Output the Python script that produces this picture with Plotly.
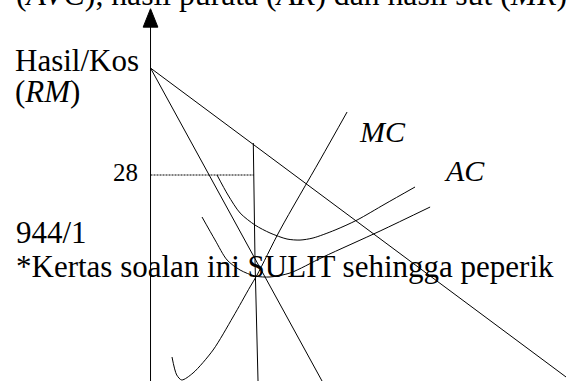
import plotly.graph_objects as go

# Rajah hasil/kos firma (unit: kuantiti Q, harga RM)
ar_q = [0, 56.48]
ar_p = [42.54, 0.54]

mr_q = [0, 23.31]
mr_p = [42.54, 0.0]

mc_q = [2.92, 3.56, 4.24, 5.78, 8.50, 11.21, 13.52, 14.48, 17.60, 23.04, 26.71]
mc_p = [3.26, 0.82, 0.14, 1.09, 4.21, 8.70, 12.78, 14.41, 20.52, 30.04, 36.56]

ac_q = [9.04, 10.53, 12.17, 14.20, 16.24, 18.55, 20.32, 22.09, 25.08, 28.07, 31.87, 35.95]
ac_p = [28.00, 25.28, 22.84, 21.20, 20.12, 19.30, 19.16, 19.44, 20.52, 21.88, 24.06, 26.37]

avc_q = [7.00, 8.77, 10.40, 12.17, 14.20, 16.24, 18.96, 23.45, 31.20, 38.00]
avc_p = [22.29, 19.17, 16.45, 15.09, 14.27, 14.14, 14.68, 16.85, 20.39, 23.65]

q_line_q = [13.97, 14.20, 14.61]
q_line_p = [32.35, 16.45, 0.0]

price_level = 28
price_q = [0, 14.03]

axis_q = [0, 0]
axis_p = [0, 48.2]
arrow_q = [-1.0, 0, 1.0, -1.0]
arrow_p = [48.1, 50.6, 48.1, 48.1]

FONT = "Liberation Serif, Times New Roman, serif"

fig = go.Figure()

line = dict(color="black", width=1)
fig.add_trace(go.Scatter(x=axis_q, y=axis_p, mode="lines", line=line))
fig.add_trace(go.Scatter(x=arrow_q, y=arrow_p, mode="lines", fill="toself",
                         fillcolor="black", line=dict(color="black", width=1)))
fig.add_trace(go.Scatter(x=ar_q, y=ar_p, mode="lines", line=line))
fig.add_trace(go.Scatter(x=mr_q, y=mr_p, mode="lines", line=line))
fig.add_trace(go.Scatter(x=mc_q, y=mc_p, mode="lines",
                         line=dict(color="black", width=1, shape="spline", smoothing=0.8)))
fig.add_trace(go.Scatter(x=ac_q, y=ac_p, mode="lines",
                         line=dict(color="black", width=1, shape="spline", smoothing=0.8)))
fig.add_trace(go.Scatter(x=avc_q, y=avc_p, mode="lines",
                         line=dict(color="black", width=1, shape="spline", smoothing=0.8)))
fig.add_trace(go.Scatter(x=q_line_q, y=q_line_p, mode="lines", line=line))
fig.add_trace(go.Scatter(x=price_q, y=[price_level, price_level], mode="lines",
                         line=dict(color="black", width=1, dash="2px,1px")))

def label(text, x, y, size=31, anchor="left", yref="y"):
    fig.add_annotation(x=x, y=y, xref="x", yref=yref, text=text, showarrow=False,
                       xanchor=anchor, yanchor="middle",
                       font=dict(family=FONT, size=size, color="black"))

# baris atas terpotong di tepi gambar
label("(<i>AVC</i>), hasil purata (<i>AR</i>) dan hasil sut (<i>MR</i>)", -18.55, 1.015,
      size=31.7, yref="paper")
label("Hasil/Kos", -18.69, 43.63)
label("(<i>RM</i>)", -18.69, 39.42)
label("28", -1.43, 28.41, size=25, anchor="right")
label("<i>MC</i>", 28.07, 33.85, size=30)
label("<i>AC</i>", 39.62, 28.68, size=30)
label("944/1", -18.55, 20.12)
label("*Kertas soalan ini SULIT sehingga peperik", -18.55, 15.63)

fig.update_layout(
    width=566, height=381,
    margin=dict(l=0, r=0, t=0, b=0),
    paper_bgcolor="white", plot_bgcolor="white",
    showlegend=False,
    xaxis=dict(range=[-20.46, 56.47], visible=False, fixedrange=True),
    yaxis=dict(range=[0, 51.79], visible=False, fixedrange=True),
)

fig.write_html("out.html", config={"displayModeBar": False},
               post_script="document.body.style.margin='0';")
